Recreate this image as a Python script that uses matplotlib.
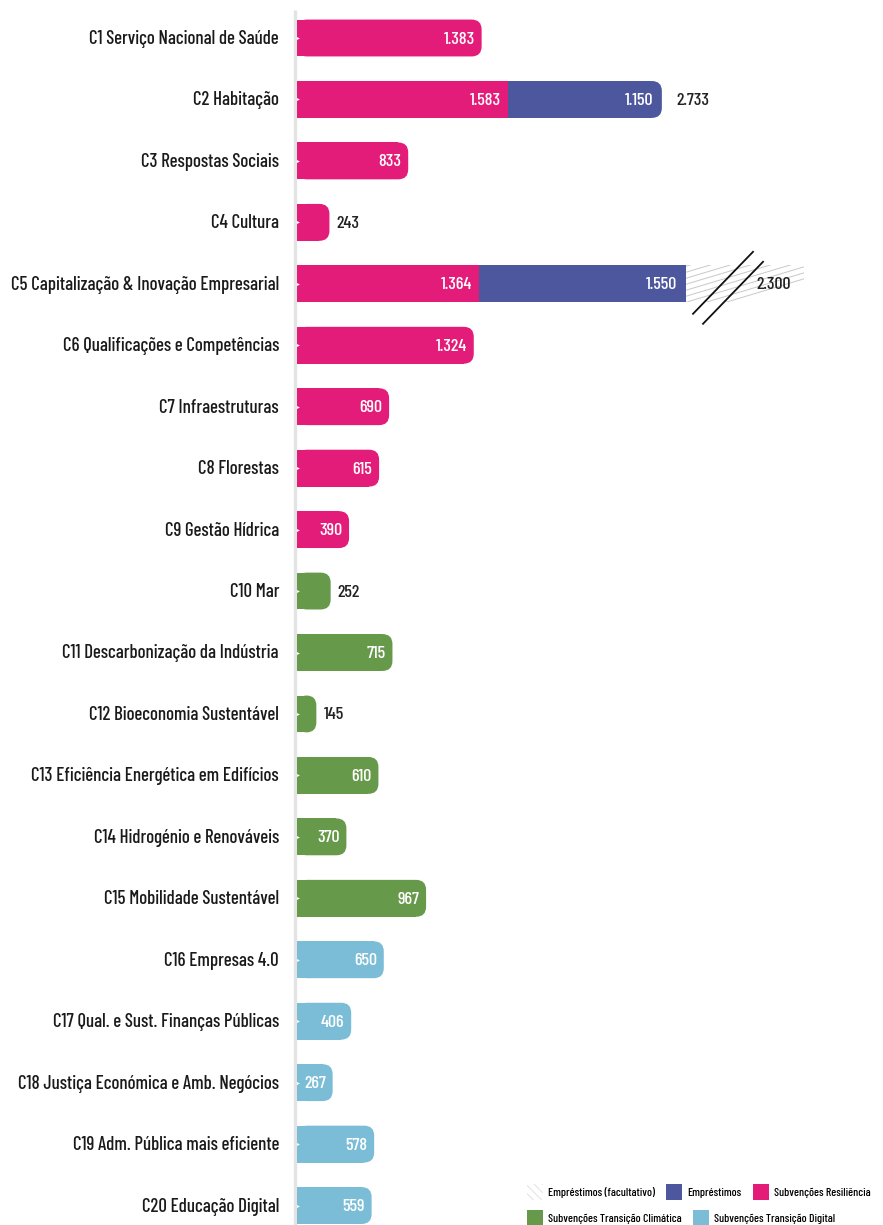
import matplotlib
matplotlib.use("Agg")
import matplotlib.pyplot as plt
from matplotlib.patches import FancyBboxPatch, Rectangle, Patch

componentes = [
    "C1 Serviço Nacional de Saúde", "C2 Habitação", "C3 Respostas Sociais",
    "C4 Cultura", "C5 Capitalização & Inovação Empresarial",
    "C6 Qualificações e Competências", "C7 Infraestruturas", "C8 Florestas",
    "C9 Gestão Hídrica", "C10 Mar", "C11 Descarbonização da Indústria",
    "C12 Bioeconomia Sustentável", "C13 Eficiência Energética em Edifícios",
    "C14 Hidrogénio e Renováveis", "C15 Mobilidade Sustentável",
    "C16 Empresas 4.0", "C17 Qual. e Sust. Finanças Públicas",
    "C18 Justiça Económica e Amb. Negócios", "C19 Adm. Pública mais eficiente",
    "C20 Educação Digital",
]
subvencoes = [1383, 1583, 833, 243, 1364, 1324, 690, 615, 390, 252,
              715, 145, 610, 370, 967, 650, 406, 267, 578, 559]
pilar = ["res"] * 9 + ["clima"] * 6 + ["digital"] * 5
emprestimos = [0, 1150, 0, 0, 1550, 0, 0, 0, 0, 0,
               0, 0, 0, 0, 0, 0, 0, 0, 0, 0]
emprestimos_facult = [0, 0, 0, 0, 2300, 0, 0, 0, 0, 0,
                      0, 0, 0, 0, 0, 0, 0, 0, 0, 0]

cores = {"res": "#e31b79", "clima": "#66994a", "digital": "#7bbdd6"}
cor_emp = "#4c579d"
cor_hatch = "#c8c8c8"

plt.rcParams["hatch.color"] = "#d4d4d4"
plt.rcParams["hatch.linewidth"] = 0.6

W, H = 883, 1225
fig = plt.figure(figsize=(W / 100, H / 100), dpi=100)
x0px = 297
ax = fig.add_axes([x0px / W, 0, (W - x0px) / W, 1])

pxu = 0.1335              # pixels per unit
xmax = (W - x0px) / pxu
row = 61.45               # pixels per row
top = 38
ax.set_xlim(0, xmax)
ax.set_ylim((H - top) / row, -top / row)
ax.axis("off")

ux = 1 / pxu               # units per pixel on x
uy = 1 / row               # rows per pixel on y
h = 0.6
rad = 10 * ux
masp = uy / ux

fnt = ["Barlow Condensed", "DejaVu Sans"]
vsize = 13


def segmento(x, w, y, cor, redondo):
    if redondo:
        ax.add_patch(FancyBboxPatch((x, y - h / 2), w, h,
                                    boxstyle=f"round,pad=0,rounding_size={rad}",
                                    mutation_aspect=masp, fc=cor, ec="none", zorder=2))
        ax.add_patch(Rectangle((x, y - h / 2), max(w - rad, 0), h, fc=cor, ec="none", zorder=2))
    else:
        ax.add_patch(Rectangle((x, y - h / 2), w, h, fc=cor, ec="none", zorder=2))


def rotulo(x, y, txt, dentro, dx=9):
    if dentro:
        ax.annotate(txt, (x, y), xytext=(-dx, -1), textcoords="offset pixels",
                    ha="right", va="center", color="white", fontsize=vsize,
                    family=fnt, weight=500, zorder=5)
    else:
        ax.annotate(txt, (x, y), xytext=(dx, -1), textcoords="offset pixels",
                    ha="left", va="center", color="#222222", fontsize=vsize,
                    family=fnt, weight=500, zorder=5)


def fmt(v):
    return f"{v:,}".replace(",", ".")


# eixo cinzento
ax.plot([-2.3 * ux, -2.3 * ux], [-0.456, (H - top) / row], color="#e3e3e3",
        lw=2.4, solid_capstyle="butt", clip_on=False, zorder=1)

for i, nome in enumerate(componentes):
    s, e, f = subvencoes[i], emprestimos[i], emprestimos_facult[i]
    segmento(0, s, i, cores[pilar[i]], e == 0 and f == 0)
    rotulo(s, i, fmt(s), s > 260, 7)
    fim = s
    if e > 0:
        segmento(s, e, i, cor_emp, f == 0)
        rotulo(s + e, i, fmt(e), True)
        fim = s + e
        if f == 0:
            ax.annotate(fmt(s + e), (fim, i), xytext=(15, -1), textcoords="offset pixels",
                        ha="left", va="center", color="#222222", fontsize=vsize,
                        family=fnt, weight=500)
    if f > 0:
        # troço partido (empréstimos facultativos), com tracejado inclinado
        lh = 118 * ux
        caixa = Rectangle((fim, i - h / 2), lh, h, fc="white", ec="none", zorder=1)
        ax.add_patch(caixa)
        for k in range(-2, 12):
            yb = i + h / 2 - k * 6 * uy
            ln, = ax.plot([fim, fim + lh], [yb, yb - 118 * 0.3 * uy],
                          color=cor_hatch, lw=0.7, zorder=1.5)
            ln.set_clip_path(caixa)
        for off in (0, 10):
            cx = fim + (37 + off) * ux
            cy = i + (-1 + off) * uy
            ax.plot([cx - 30 * ux, cx + 30 * ux], [cy + 31 * uy, cy - 31 * uy],
                    color="#111111", lw=1.3, zorder=4)
        ax.annotate(fmt(f), (fim + lh, i), xytext=(-13, -1), textcoords="offset pixels",
                    ha="right", va="center", color="#222222", fontsize=vsize,
                    family=fnt, weight=500, zorder=5)
    ax.plot(0, i, marker=">", color="white", ms=3.5, mec="none", zorder=3)
    ax.annotate(nome, (0, i), xytext=(-18, -1), textcoords="offset pixels",
                ha="right", va="center", color="#1a1a1a", fontsize=13.6,
                family=fnt, weight=500, annotation_clip=False)

linha1 = [
    Patch(fc="white", ec="#dddddd", lw=0, hatch="\\\\\\\\", label="Empréstimos (facultativo)"),
    Patch(fc=cor_emp, label="Empréstimos"),
    Patch(fc=cores["res"], label="Subvenções Resiliência"),
]
linha2 = [
    Patch(fc=cores["clima"], label="Subvenções Transição Climática"),
    Patch(fc=cores["digital"], label="Subvenções Transição Digital"),
]
for hs, yy in ((linha1, (H - 1192) / H), (linha2, (H - 1218) / H)):
    fig.legend(handles=hs, ncol=len(hs), loc="center left", bbox_to_anchor=(527 / W, yy),
               frameon=False, prop={"family": fnt, "size": 8.5, "weight": 500},
               handlelength=1.35, handleheight=1.6, columnspacing=0.95,
               handletextpad=0.45, borderpad=0, borderaxespad=0)

fig.savefig("out.png", dpi=100)
